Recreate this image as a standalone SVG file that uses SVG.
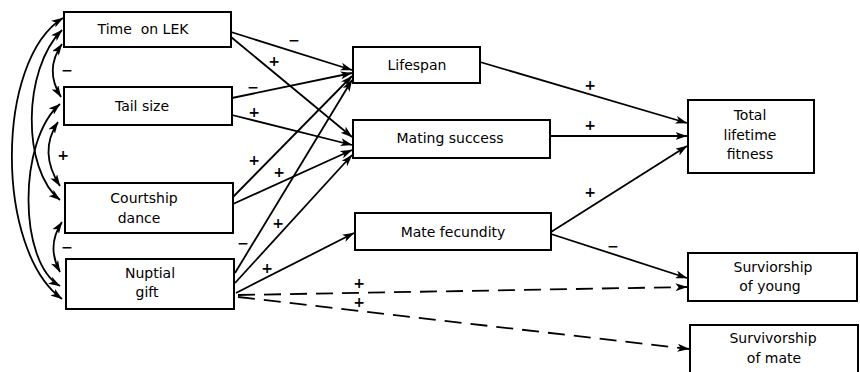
<svg xmlns="http://www.w3.org/2000/svg" width="860" height="372" viewBox="0 0 860 372">
<defs>
<marker id="ah" viewBox="0 0 12 8" refX="11.5" refY="4" markerWidth="12" markerHeight="8" markerUnits="userSpaceOnUse" orient="auto-start-reverse">
<path d="M0,0 L12,4 L0,8 L3,4 Z" fill="#000"/>
</marker>
<style>
.box{fill:#fff;stroke:#000;stroke-width:2}
.lbl{font-family:"DejaVu Sans","Liberation Sans",sans-serif;font-size:14px;fill:#000;text-anchor:middle}
.sg{font-family:"DejaVu Sans","Liberation Sans",sans-serif;font-size:14px;font-weight:bold;fill:#000;text-anchor:middle}
.c{fill:none;stroke:#000;stroke-width:1.8;marker-end:url(#ah)}
.d{stroke-dasharray:17 9}
.arc{fill:none;stroke:#000;stroke-width:1.8;marker-start:url(#ah);marker-end:url(#ah)}
</style>
</defs>
<rect width="860" height="372" fill="#fff"/>
<g id="connectors">
<path class="c" d="M231,32 L352,70"/>
<path class="c" d="M231,37 L352,137"/>
<path class="c" d="M232,98 L352,73"/>
<path class="c" d="M232,115 L352,145"/>
<path class="c" d="M233,197 L352,76"/>
<path class="c" d="M233,204 L352,150"/>
<path class="c" d="M235,273 L352,80"/>
<path class="c" d="M235,283 L352,155"/>
<path class="c" d="M236,293 L354,233"/>
<path class="c d" d="M238,295 L687,287"/>
<path class="c d" d="M238,297 L689,349"/>
<path class="c" d="M480,62 L687,123"/>
<path class="c" d="M550,136 L687,136"/>
<path class="c" d="M551,232 L687,146"/>
<path class="c" d="M551,234 L687,278"/>
<path class="arc" d="M62,44 Q44,70 61,97"/>
<path class="arc" d="M58,122 Q38,152 60,186"/>
<path class="arc" d="M62,222 Q46,246 60,272"/>
<path class="arc" d="M62,30 C22,70 22,170 60,200"/>
<path class="arc" d="M60,104 C18,140 18,262 60,286"/>
<path class="arc" d="M63,18 C-5,60 -5,250 62,299"/>
</g>
<g id="signs">
<text class="sg" x="67" y="75">−</text>
<text class="sg" x="63" y="160">+</text>
<text class="sg" x="67" y="252">−</text>
<text class="sg" x="294" y="45">−</text>
<text class="sg" x="274" y="66">+</text>
<text class="sg" x="253" y="92">−</text>
<text class="sg" x="254" y="117">+</text>
<text class="sg" x="254" y="165">+</text>
<text class="sg" x="279" y="177">+</text>
<text class="sg" x="243" y="248">−</text>
<text class="sg" x="278" y="228">+</text>
<text class="sg" x="267" y="273">+</text>
<text class="sg" x="359" y="288">+</text>
<text class="sg" x="359" y="307">+</text>
<text class="sg" x="590" y="90">+</text>
<text class="sg" x="590" y="130">+</text>
<text class="sg" x="590" y="197">+</text>
<text class="sg" x="613" y="251">−</text>
</g>
<g id="time-on-lek"><rect class="box" x="64" y="12" width="167" height="35"/><text class="lbl" x="143" y="34" xml:space="preserve">Time  on LEK</text></g>
<g id="tail-size"><rect class="box" x="64" y="87" width="168" height="38"/><text class="lbl" x="142" y="111">Tail size</text></g>
<g id="courtship-dance"><rect class="box" x="65" y="183" width="168" height="50"/><text class="lbl" x="144" y="203">Courtship</text><text class="lbl" x="139" y="223">dance</text></g>
<g id="nuptial-gift"><rect class="box" x="66" y="259" width="168" height="50"/><text class="lbl" x="150" y="278">Nuptial</text><text class="lbl" x="147" y="297">gift</text></g>
<g id="lifespan"><rect class="box" x="353" y="47" width="127" height="36"/><text class="lbl" x="417" y="70">Lifespan</text></g>
<g id="mating-success"><rect class="box" x="353" y="120" width="197" height="38"/><text class="lbl" x="450" y="143">Mating success</text></g>
<g id="mate-fecundity"><rect class="box" x="355" y="213" width="196" height="37"/><text class="lbl" x="453" y="237">Mate fecundity</text></g>
<g id="total-lifetime-fitness"><rect class="box" x="688" y="100" width="126" height="73"/><text class="lbl" x="750" y="120">Total</text><text class="lbl" x="750" y="140">lifetime</text><text class="lbl" x="750" y="159">fitness</text></g>
<g id="surviorship-of-young"><rect class="box" x="688" y="253" width="169" height="48"/><text class="lbl" x="773" y="272">Surviorship</text><text class="lbl" x="770" y="291">of young</text></g>
<g id="survivorship-of-mate"><rect class="box" x="690" y="325" width="168" height="60"/><text class="lbl" x="773" y="343">Survivorship</text><text class="lbl" x="774" y="363">of mate</text></g>
</svg>
